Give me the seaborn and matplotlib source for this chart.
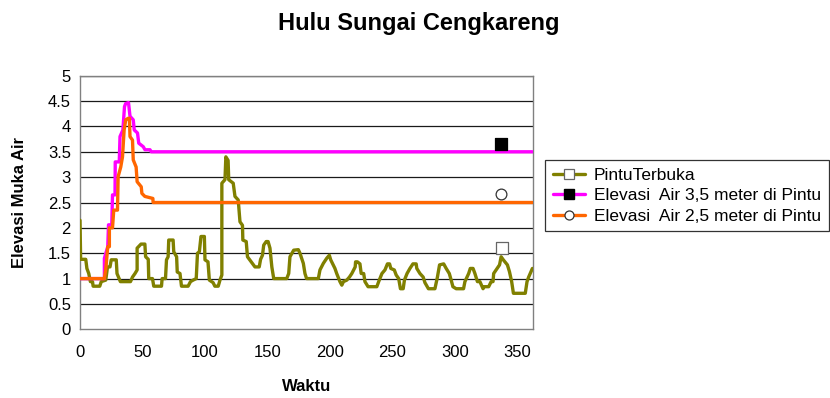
import matplotlib
matplotlib.use("Agg")
import matplotlib.pyplot as plt
from matplotlib.lines import Line2D
import pandas as pd
import seaborn as sns

# ---- data -------------------------------------------------------------
# Pintu Terbuka (gate open)
time_pintu = [0, 0.5, 4.6, 5.5, 7, 8.3, 10, 10.5, 15.8, 17, 20.6, 22, 24, 25, 29,
              29.6, 32.3, 40.4, 42, 44, 45.7, 45.7, 48.8, 51.9, 52.5, 54.6, 55, 58,
              59, 65.2, 65.7, 68.4, 69.2, 70.5, 71, 74.5, 75, 77.3, 77.8, 80, 81.2,
              86.5, 88.4, 90.5, 93, 94, 95.5, 96.8, 99.5, 100, 102.4, 103.5, 106.5,
              107.9, 110.6, 112, 113.5, 113.5, 116, 116.7, 118.5, 119, 122.6, 124,
              126.6, 128, 130, 130.3, 133, 134, 137, 140, 143.4, 144.5, 146, 147,
              149, 150.5, 152, 153.5, 155, 165.4, 167, 168, 171, 174.7, 176, 178.7,
              180, 181.3, 190.7, 192, 194.7, 197.4, 199.5, 200.6, 204, 205.4, 208,
              209.5, 210.8, 213.5, 215.6, 217.5, 220.2, 220.5, 222, 224, 225, 227,
              228, 230.5, 237.5, 239, 241.6, 244, 246, 247.7, 248.7, 251.5, 253,
              255, 256.4, 258.6, 259.6, 261.7, 264, 266.4, 269, 269.5, 272, 274.6,
              276, 278.8, 284, 286, 287.7, 291, 293, 295.5, 297, 298.4, 301, 306.9,
              308, 311, 312.3, 314.5, 316, 318, 320, 322.5, 323.5, 327, 329, 330.5,
              331, 335.7, 337, 338.7, 342, 343.6, 345.4, 346.8, 356.3, 357.7, 359,
              362]
elev_pintu = [2.15, 1.38, 1.38, 1.2, 1.1, 0.94, 0.94, 0.85, 0.85, 0.94, 0.97, 1.23,
              1.23, 1.37, 1.37, 1.1, 0.94, 0.94, 1.03, 1.1, 1.17, 1.6, 1.68, 1.68,
              1.43, 1.38, 1.0, 1.0, 0.85, 0.85, 1.0, 1.0, 1.37, 1.43, 1.76, 1.76,
              1.53, 1.43, 1.13, 1.1, 0.85, 0.85, 0.94, 0.97, 1.0, 1.5, 1.53, 1.83,
              1.83, 1.37, 1.33, 0.97, 0.92, 0.85, 0.85, 0.97, 1.07, 2.88, 2.95, 3.4,
              3.33, 2.95, 2.88, 2.62, 2.55, 2.12, 2.05, 1.76, 1.73, 1.43, 1.33, 1.23,
              1.23, 1.38, 1.46, 1.66, 1.73, 1.73, 1.6, 1.23, 1.0, 1.0, 1.1, 1.43,
              1.56, 1.57, 1.5, 1.3, 1.1, 1.0, 1.0, 1.17, 1.3, 1.4, 1.46, 1.37, 1.2,
              1.1, 0.94, 0.87, 0.94, 0.97, 1.03, 1.1, 1.23, 1.33, 1.33, 1.29, 1.1,
              1.1, 0.94, 0.84, 0.84, 0.94, 1.1, 1.17, 1.29, 1.29, 1.2, 1.17, 1.07,
              1.0, 0.8, 0.8, 0.97, 1.1, 1.2, 1.29, 1.29, 1.2, 1.1, 1.03, 0.92, 0.8,
              0.8, 1.03, 1.27, 1.29, 1.2, 1.1, 0.97, 0.84, 0.8, 0.8, 0.94, 1.1, 1.2,
              1.2, 1.1, 0.94, 0.94, 0.8, 0.84, 0.84, 0.94, 0.94, 1.1, 1.27, 1.43,
              1.37, 1.27, 1.14, 0.94, 0.71, 0.71, 0.94, 1.03, 1.2]

# Elevasi Air 3,5 meter di Pintu
time_35 = [0, 19.5, 19.5, 22.2, 22.8, 25.4, 26, 28, 28.2, 31.4, 32, 34.3, 35.6,
           36.5, 38.8, 40, 42.6, 43.4, 46, 47, 50.6, 52, 56, 57, 362]
elev_35 = [1.0, 1.0, 1.4, 1.63, 2.06, 2.06, 2.65, 2.65, 3.3, 3.3, 3.8, 3.93, 4.39,
           4.45, 4.47, 4.2, 4.13, 3.93, 3.87, 3.67, 3.6, 3.54, 3.54, 3.5, 3.5]

# Elevasi Air 2,5 meter di Pintu
time_25 = [0, 19.5, 20.8, 22.2, 23.5, 23.5, 26, 27, 30, 30.5, 32.6, 34, 35.3, 36.6,
           38.5, 39.5, 40, 42, 42.6, 44.9, 45.7, 49, 49.5, 51.9, 58.3, 58.5, 362]
elev_25 = [1.0, 1.0, 1.23, 1.63, 1.63, 2.0, 2.0, 2.35, 2.35, 3.01, 3.2, 3.4, 3.93,
           4.13, 4.16, 4.16, 3.8, 3.73, 3.34, 3.2, 2.91, 2.81, 2.68, 2.62, 2.58,
           2.5, 2.5]

# single marker point of each series
marker_time = [338, 337, 337]
marker_elev = [1.6, 3.65, 2.67]

series_names = ["PintuTerbuka", "Elevasi  Air 3,5 meter di Pintu",
                "Elevasi  Air 2,5 meter di Pintu"]
x_ticks = [0, 50, 100, 150, 200, 250, 300, 350]
y_ticks = [0, 0.5, 1, 1.5, 2, 2.5, 3, 3.5, 4, 4.5, 5]
y_tick_labels = ["0", "0.5", "1", "1.5", "2", "2.5", "3", "3.5", "4", "4.5", "5"]

# ---- styling ----------------------------------------------------------
sns.set_theme(style="white")
plt.rcParams['font.family'] = ['Liberation Sans', 'DejaVu Sans']
plt.rcParams['text.color'] = 'black'
plt.rcParams['axes.labelcolor'] = 'black'
plt.rcParams['xtick.color'] = 'black'
plt.rcParams['ytick.color'] = 'black'

colors = ["#808000", "#FF00FF", "#FF6600"]

fig = plt.figure(figsize=(8.3, 3.98), dpi=100)
ax = fig.add_axes([0.0964, 0.1726, 0.5458, 0.6372])

frames = [
    pd.DataFrame({"Waktu": time_pintu, "Elevasi": elev_pintu}),
    pd.DataFrame({"Waktu": time_35, "Elevasi": elev_35}),
    pd.DataFrame({"Waktu": time_25, "Elevasi": elev_25}),
]

for y in y_ticks[1:]:
    ax.axhline(y, color="#1a1a1a", lw=0.9, zorder=1)

for df, c in zip(frames, colors):
    sns.lineplot(data=df, x="Waktu", y="Elevasi", ax=ax, color=c, lw=2.4,
                 estimator=None, sort=False, zorder=3)

marker_styles = [
    dict(marker="s", s=70, facecolor="white", edgecolor="#666666", linewidths=0.9),
    dict(marker="s", s=70, facecolor="black", edgecolor="black", linewidths=0.9),
    dict(marker="o", s=60, facecolor="white", edgecolor="#333333", linewidths=0.9),
]
for mx, my, st in zip(marker_time, marker_elev, marker_styles):
    ax.scatter([mx], [my], zorder=4, **st)

ax.set_xlim(0, 362.5)
ax.set_ylim(0, 5)
ax.set_xticks(x_ticks)
ax.set_yticks(y_ticks)
ax.set_yticklabels(y_tick_labels)
ax.set_xlabel("")
ax.set_ylabel("")
ax.tick_params(axis="both", labelsize=12, labelcolor="black", direction="out",
               length=4.5, width=0.9, color="#555555")
ax.tick_params(axis="x", pad=7)
ax.tick_params(axis="y", pad=2)
for side in ["left", "bottom", "right", "top"]:
    ax.spines[side].set_color("#808080")
    ax.spines[side].set_linewidth(1.0)

fig.text(0.505, 0.94, "Hulu Sungai Cengkareng", ha="center", va="center",
         fontsize=17, fontweight="bold", color="black")
fig.text(0.3693, 0.029, "Waktu", ha="center", va="center", fontsize=12,
         fontweight="bold", color="black")
fig.text(0.024, 0.491, "Elevasi Muka Air", ha="center", va="center",
         rotation=90, fontsize=12, fontweight="bold", color="black")

handles = [
    Line2D([], [], color=colors[0], lw=2.4, marker="s", markersize=7,
           markerfacecolor="white", markeredgecolor="#666666", markeredgewidth=0.9),
    Line2D([], [], color=colors[1], lw=2.4, marker="s", markersize=7,
           markerfacecolor="black", markeredgecolor="black"),
    Line2D([], [], color=colors[2], lw=2.4, marker="o", markersize=6.5,
           markerfacecolor="white", markeredgecolor="#333333", markeredgewidth=0.9),
]
leg = fig.legend(handles, series_names, loc="upper left",
                 bbox_to_anchor=(0.6566, 0.598), fontsize=12.5, frameon=True,
                 fancybox=False, edgecolor="black", borderaxespad=0,
                 handlelength=1.85, handletextpad=0.5, labelspacing=0.3,
                 borderpad=0.45)
leg.get_frame().set_linewidth(0.9)
for txt in leg.get_texts():
    txt.set_color("black")

fig.savefig("out.png", dpi=100, facecolor="white")
